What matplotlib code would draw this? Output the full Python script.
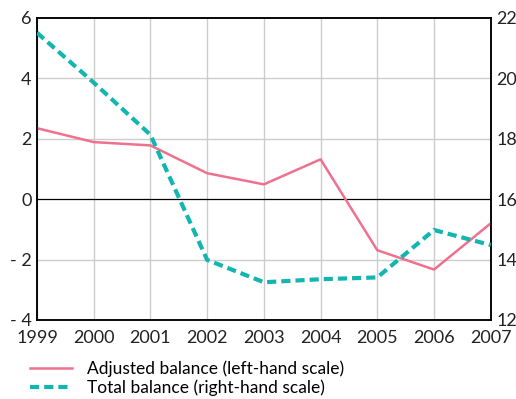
import matplotlib.pyplot as plt
import numpy as np

plt.rcParams["font.family"] = ["Lato", "DejaVu Sans"]

years = [1999, 2000, 2001, 2002, 2003, 2004, 2005, 2006, 2007]
adjusted = [2.35, 1.89, 1.78, 0.86, 0.49, 1.32, -1.69, -2.33, -0.80]
total = [21.51, 19.86, 18.13, 13.99, 13.25, 13.35, 13.41, 14.98, 14.48]
left_ticks = [-4, -2, 0, 2, 4, 6]
left_labels = ["- 4", "- 2", "0", "2", "4", "6"]
right_ticks = [12, 14, 16, 18, 20, 22]

pink = "#f0708f"
teal = "#13b5b1"
grid = "#cccccc"

fig = plt.figure(figsize=(5.16, 3.99), dpi=100)
ax = fig.add_axes([0.0717, 0.198, 0.8793, 0.757])
ax2 = ax.twinx()

for y in years:
    ax.axvline(y, color=grid, linewidth=1, zorder=0)
for t in left_ticks[1:-1]:
    if t != 0:
        ax.axhline(t, color=grid, linewidth=1, zorder=0)
ax.axhline(0, color="black", linewidth=0.9, zorder=1)

l1, = ax.plot(years, adjusted, color=pink, linewidth=1.8, zorder=3,
              label="Adjusted balance (left-hand scale)")
l2, = ax2.plot(years, total, color=teal, linewidth=3, linestyle=(0, (2.2, 1.2)),
               zorder=3, label="Total balance (right-hand scale)")

ax.set_xlim(1999, 2007)
ax.set_ylim(-4, 6)
ax2.set_ylim(12, 22)
ax.set_xticks(years)
ax.set_xticklabels([str(y) for y in years], fontsize=13, color="#222222")
ax.set_yticks(left_ticks)
ax.set_yticklabels(left_labels, fontsize=13, color="#222222")
ax2.set_yticks(right_ticks)
ax2.set_yticklabels([str(t) for t in right_ticks], fontsize=13, color="#222222")
ax.tick_params(axis="y", length=0, pad=4)
ax.tick_params(axis="x", length=0, pad=7)
ax2.tick_params(length=0, pad=4)
for a in (ax, ax2):
    for s in a.spines.values():
        s.set_linewidth(1.1)

fig.legend(handles=[l1, l2], loc="upper left", bbox_to_anchor=(0.058, 0.097),
           frameon=False, fontsize=12.5, handlelength=2.4, handletextpad=0.9,
           labelspacing=0.15, borderaxespad=0, borderpad=0)

fig.savefig("out.png", dpi=100)
